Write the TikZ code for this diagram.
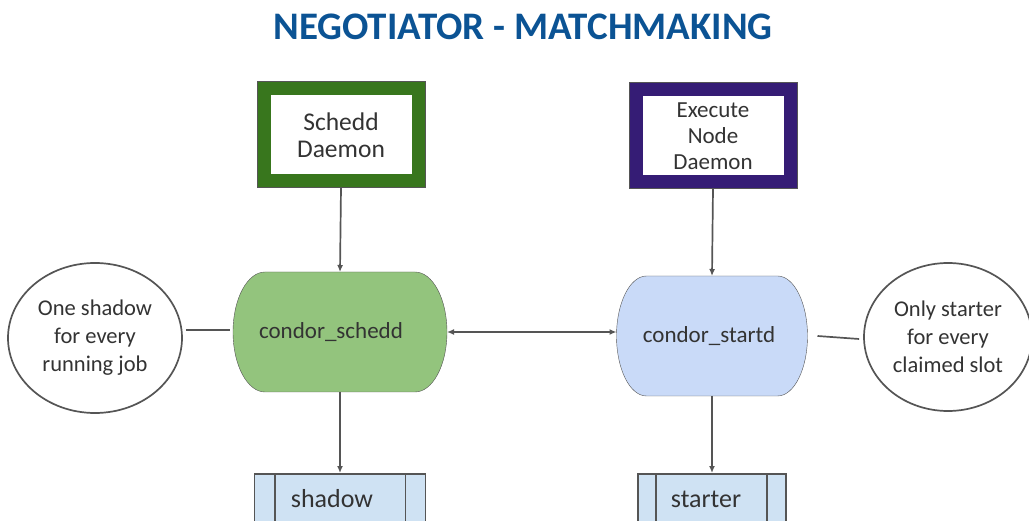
\documentclass[tikz,border=0pt]{standalone}
\usepackage{fontspec}
\setmainfont{Carlito}
\usepackage{xcolor}
\usepackage{tikz}
\usetikzlibrary{arrows.meta,positioning,calc,backgrounds,shapes.geometric}

\definecolor{titleblue}{HTML}{0B5394}
\definecolor{scheddgreen}{HTML}{38761D}
\definecolor{startdnavy}{HTML}{351C75}
\definecolor{scheddfill}{HTML}{93C47D}
\definecolor{startdfill}{HTML}{C9DAF8}
\definecolor{procfill}{HTML}{CFE2F3}
\definecolor{linegray}{HTML}{555555}
\definecolor{textgray}{HTML}{333333}

\tikzset{
  daemon/.style={draw=#1, line width=13pt, fill=white, text=textgray,
    preaction={draw=linegray, line width=15pt},
    minimum width=154pt, minimum height=92pt, inner sep=0pt, align=center},
  capsule/.style={minimum width=#1, minimum height=120pt, inner sep=0pt, outer sep=0pt,
    text=textgray, font=\fontsize{23}{26}\selectfont},
  note/.style={draw=linegray, ellipse, fill=white, inner sep=0pt, align=center, text=textgray,
    font=\fontsize{22.5}{28}\selectfont},
  proc/.style={draw=linegray, fill=procfill, minimum height=60pt, inner sep=0pt},
  proctext/.style={text=textgray, font=\fontsize{26}{28}\selectfont},
  link/.style={draw=linegray, -{Latex[length=7pt,width=6pt]}},
}

% side-bulging box behind a capsule node
\newcommand{\bulgebox}[3]{%
  \begin{scope}[on background layer]
    \draw[draw=linegray, fill=#2]
      (#1.north) -- ($(#1.north east)+(-#3,0)$)
      arc[start angle=90, end angle=-90, x radius=#3, y radius=60]
      -- ($(#1.south west)+(#3,0)$)
      arc[start angle=270, end angle=90, x radius=#3, y radius=60] -- cycle;
  \end{scope}}

\begin{document}
\begin{tikzpicture}[x=1pt, y=1pt, line width=1.7pt]
  \useasboundingbox (0,0) rectangle (1029,520);
  \clip (0,0) rectangle (1029,520);

  % title
  \node[text=titleblue, font=\fontsize{39}{41}\selectfont\bfseries] (title) at (523,493) {NEGOTIATOR - MATCHMAKING};

  % daemons
  \node[daemon=scheddgreen, font=\fontsize{25.5}{27}\selectfont] (scheddd) at (341,385) {Schedd\\Daemon};
  \node[daemon=startdnavy, font=\fontsize{23}{26}\selectfont] (execd) at (713,384) {Execute\\Node\\Daemon};

  % schedd and startd
  \node[capsule=214pt] (schedd) at (340,188) {\hspace*{-18pt}condor\_schedd};
  \bulgebox{schedd}{scheddfill}{32}
  \node[capsule=191pt] (startd) at (712,184) {\hspace*{-6pt}condor\_startd};
  \bulgebox{startd}{startdfill}{30}

  % notes
  \node[note, minimum width=174pt, minimum height=150pt] (shnote) at (95,182) {One shadow\\for every\\running job};
  \node[note, minimum width=168pt, minimum height=148pt] (stnote) at (948,183) {Only starter\\for every\\claimed slot};

  % shadow and starter
  \node[proc, minimum width=171pt, anchor=north] (shadow) at (340,47) {};
  \node[proctext] at (332,21) {shadow};
  \draw[linegray] ([xshift=21pt]shadow.north west) -- ([xshift=21pt]shadow.south west)
    ([xshift=-21pt]shadow.north east) -- ([xshift=-21pt]shadow.south east);
  \node[proc, minimum width=148pt, anchor=north] (starter) at (712,47) {};
  \node[proctext] at (706,21) {starter};
  \draw[linegray] ([xshift=19pt]starter.north west) -- ([xshift=19pt]starter.south west)
    ([xshift=-20pt]starter.north east) -- ([xshift=-20pt]starter.south east);

  % connectors
  \draw[link] (scheddd.south) -- (schedd.north);
  \draw[link] (execd.south) -- (startd.north);
  \draw[link] (schedd.south) -- (shadow.north);
  \draw[link] (startd.south) -- (starter.north);
  \draw[link, {Latex[length=7pt,width=6pt]}-{Latex[length=7pt,width=6pt]}] (schedd.east) -- (schedd.east -| startd.west);
  \draw[linegray] ([shift={(3,8)}]shnote.east) -- ([shift={(-3,2)}]schedd.west);
  \draw[linegray] ([xshift=10]startd.east) -- ([shift={(-4,-2)}]stnote.west);
\end{tikzpicture}
\end{document}
